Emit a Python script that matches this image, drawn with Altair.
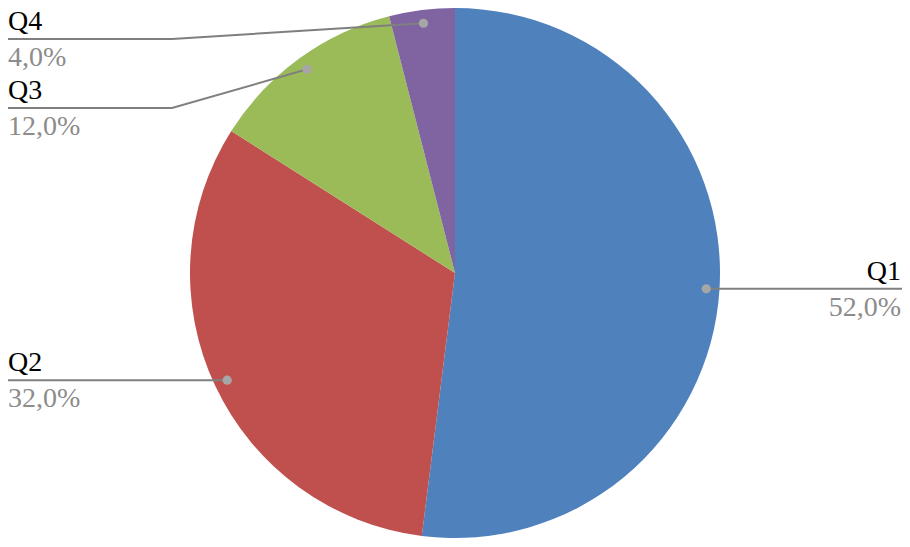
import math
import altair as alt
import pandas as pd

# ---- data ----
quarters = ["Q1", "Q2", "Q3", "Q4"]
shares = [52.0, 32.0, 12.0, 4.0]
colors = ["#4F81BD", "#C0504D", "#9BBB59", "#8064A2"]

# ---- layout (pixels in chart coordinates) ----
W, H = 894, 531
CX, CY, R = 447, 265, 265
ANCHOR_FRAC = 0.95
label_side = ["right", "left", "left", "left"]
label_line_y = {"Q1": None, "Q2": None, "Q3": 100, "Q4": 31}
elbow_x = 164

pie_df = pd.DataFrame({"quarter": quarters, "share": shares, "idx": list(range(len(quarters)))})

total = sum(shares)
cum = 0.0
line_rows, dot_rows, name_rows, pct_rows = [], [], [], []
for q, s, side in zip(quarters, shares, label_side):
    mid = (cum + s / 2) / total * 2 * math.pi
    cum += s
    ax = CX + ANCHOR_FRAC * R * math.sin(mid)
    ay = CY - ANCHOR_FRAC * R * math.cos(mid)
    dot_rows.append({"quarter": q, "x": ax, "y": ay})
    ly = label_line_y[q] if label_line_y[q] is not None else ay
    pts = [(ax, ay)]
    if label_line_y[q] is not None:
        pts.append((elbow_x, ly))
    end_x = W if side == "right" else 0
    pts.append((end_x, ly))
    for i, (px, py) in enumerate(pts):
        line_rows.append({"quarter": q, "seq": i, "x": px, "y": py})
    pct = f"{s:.1f}".replace(".", ",") + "%"
    name_rows.append({"quarter": q, "x": end_x, "y": ly - 9, "label": q, "side": side})
    pct_rows.append({"quarter": q, "x": end_x, "y": ly + 27, "label": pct, "side": side})

lines_df = pd.DataFrame(line_rows)
dots_df = pd.DataFrame(dot_rows)
names_df = pd.DataFrame(name_rows)
pcts_df = pd.DataFrame(pct_rows)

xs = alt.Scale(domain=[0, W], nice=False, zero=False)
ys = alt.Scale(domain=[H, 0], nice=False, zero=False)

pie = alt.Chart(pie_df).mark_arc(radius=R, strokeWidth=0).encode(
    theta=alt.Theta("share:Q", stack=True),
    color=alt.Color("quarter:N", scale=alt.Scale(domain=quarters, range=colors), legend=None),
    order=alt.Order("idx:Q"),
    x=alt.value(CX),
    y=alt.value(CY),
)

leaders = alt.Chart(lines_df).mark_line(color="#7f7f7f", strokeWidth=2).encode(
    x=alt.X("x:Q", scale=xs, axis=None),
    y=alt.Y("y:Q", scale=ys, axis=None),
    detail="quarter:N",
    order=alt.Order("seq:Q"),
)

dots = alt.Chart(dots_df).mark_circle(color="#a6a6a6", opacity=1, size=85).encode(
    x=alt.X("x:Q", scale=xs, axis=None),
    y=alt.Y("y:Q", scale=ys, axis=None),
)

FONT = "Liberation Serif, Times New Roman, serif"

def text_layer(df, color):
    layers = []
    for side in ["left", "right"]:
        sub = df[df["side"] == side]
        if len(sub) == 0:
            continue
        layers.append(
            alt.Chart(sub).mark_text(
                align=side, baseline="alphabetic", font=FONT,
                fontSize=28, color=color, dx=(-1 if side == "right" else 0),
            ).encode(
                x=alt.X("x:Q", scale=xs, axis=None),
                y=alt.Y("y:Q", scale=ys, axis=None),
                text="label:N",
            )
        )
    return layers

chart = alt.layer(
    pie, leaders, dots, *text_layer(names_df, "#000000"), *text_layer(pcts_df, "#8c8c8c")
).properties(
    width=W, height=H, padding=0, background="white",
    autosize=alt.AutoSizeParams(type="none"),
).configure_view(stroke=None, strokeWidth=0)

chart.save("out.html", embed_options={"renderer": "svg", "actions": False})
